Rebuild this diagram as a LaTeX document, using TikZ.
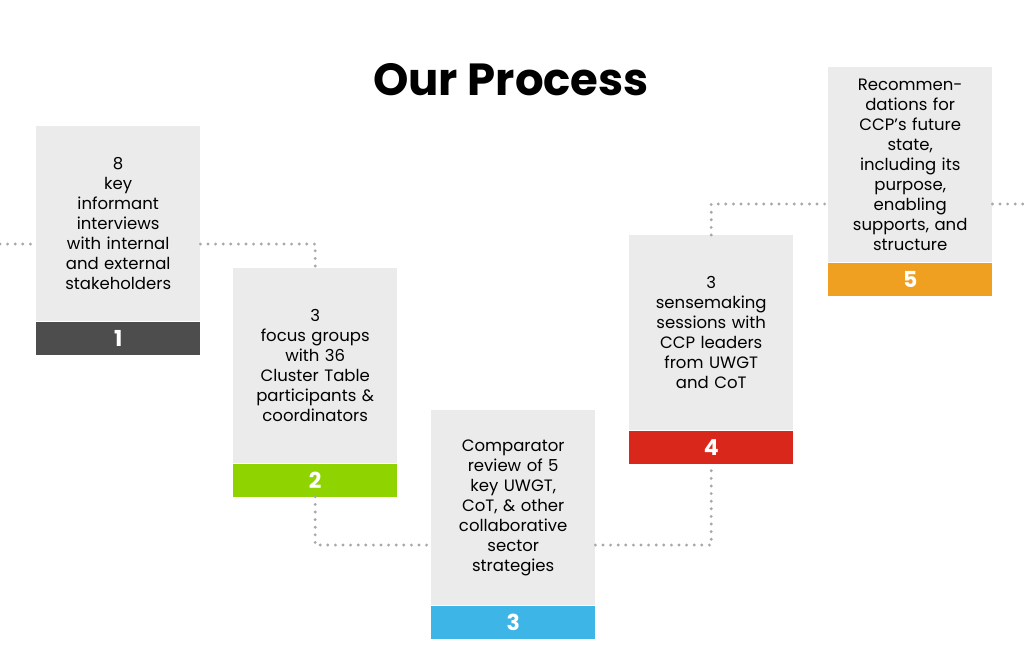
\documentclass[tikz,border=0pt]{standalone}
\usepackage{fontspec}
\setmainfont{Poppins}
\definecolor{boxgray}{HTML}{EBEBEB}
\definecolor{dotgray}{HTML}{A8A8A8}
\definecolor{c1}{HTML}{4D4D4D}
\definecolor{c2}{HTML}{8FD400}
\definecolor{c3}{HTML}{3DB5E6}
\definecolor{c4}{HTML}{D9271C}
\definecolor{c5}{HTML}{F0A020}
\begin{document}
\begin{tikzpicture}[x=1pt,y=-1pt,
  body/.style={fill=boxgray,minimum width=164pt,minimum height=195pt,anchor=north west,inner sep=0pt,align=center,font=\fontsize{16.5}{20}\selectfont,text width=150pt},
  bar/.style={minimum width=164pt,minimum height=33pt,anchor=north,inner sep=0pt,text=white,font=\fontsize{22}{24}\selectfont\bfseries},
  dots/.style={dotgray,line width=3.2pt,line cap=round,dash pattern=on 0pt off 7.6pt}]
\useasboundingbox (0,0) rectangle (1024,662);
\fill[white] (0,0) rectangle (1024,662);
\node[font=\fontsize{45}{50}\selectfont\bfseries] (title) at (511,80) {Our Process};
\node[body] (b1) at (36,126) {8\\key\\informant\\interviews\\with internal\\and external\\stakeholders};
\node[bar,fill=c1] (n1) at (b1.south) {1};
\node[body] (b2) at (233,268) {3\\focus groups\\with 36\\Cluster Table\\participants \&\\coordinators};
\node[bar,fill=c2] (n2) at (b2.south) {2};
\node[body] (b3) at (431,410) {Comparator\\review of 5\\key UWGT,\\CoT, \& other\\collaborative\\sector\\strategies};
\node[bar,fill=c3] (n3) at (b3.south) {3};
\node[body] (b4) at (629,235) {3\\sensemaking\\sessions with\\CCP leaders\\from UWGT\\and CoT};
\node[bar,fill=c4] (n4) at (b4.south) {4};
\node[body] (b5) at (828,67) {Recommen-\\dations for\\CCP's future\\state,\\including its\\purpose,\\enabling\\supports, and\\structure};
\node[bar,fill=c5] (n5) at (b5.south) {5};
\coordinate (l0) at (0,244);
\coordinate (r0) at (1024,204);
\draw[dots] (l0) -- (l0 -| b1.west);
\draw[dots] (b1.east |- l0) -| (b2.north);
\draw[dots] (n2.south) |- (b3.west |- 0,545);
\draw[dots] (b3.east |- 0,545) -| (n4.south);
\draw[dots] (b4.north) |- (b5.west |- r0);
\draw[dots] (b5.east |- r0) -- (r0);
\end{tikzpicture}
\end{document}
